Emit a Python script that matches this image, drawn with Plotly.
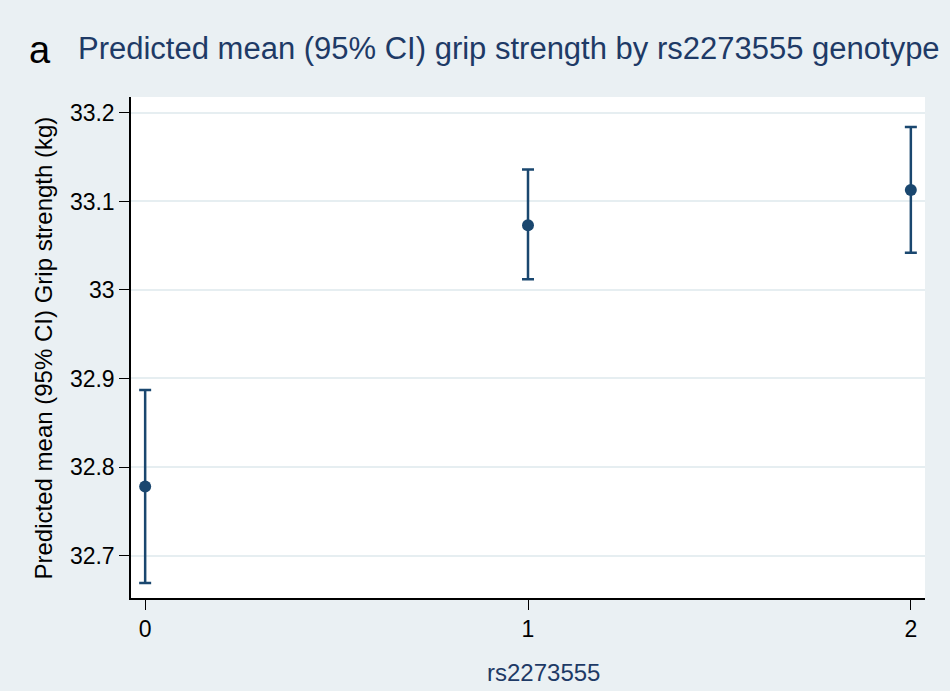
import plotly.graph_objects as go

# Predicted grip strength by rs2273555 genotype
genotype = [0, 1, 2]
pred_mean = [32.778, 33.073, 33.113]
ci_low = [32.669, 33.012, 33.042]
ci_high = [32.887, 33.136, 33.184]
y_ticks = [32.7, 32.8, 32.9, 33.0, 33.1, 33.2]
y_tick_text = ["32.7", "32.8", "32.9", "33", "33.1", "33.2"]

navy = "#1a476f"
title_blue = "#1e3a66"
bg = "#eaf0f3"
font_family = "Liberation Sans, Arial, sans-serif"

fig = go.Figure()
fig.add_trace(go.Scatter(
    x=genotype,
    y=pred_mean,
    mode="markers",
    marker=dict(color=navy, size=12),
    error_y=dict(
        type="data",
        symmetric=False,
        array=[h - m for h, m in zip(ci_high, pred_mean)],
        arrayminus=[m - l for m, l in zip(pred_mean, ci_low)],
        color=navy,
        thickness=2.5,
        width=6,
    ),
    showlegend=False,
))

fig.update_layout(
    width=950,
    height=691,
    paper_bgcolor=bg,
    plot_bgcolor="white",
    margin=dict(l=131, r=25, t=97, b=93),
    font=dict(family=font_family, color="black"),
    xaxis=dict(
        range=[-0.037, 2.037],
        tickmode="array",
        tickvals=genotype,
        ticktext=[str(g) for g in genotype],
        ticks="outside",
        ticklen=10,
        tickcolor="black",
        tickfont=dict(size=23, color="black"),
        showgrid=False,
        zeroline=False,
        showline=True,
        linecolor="black",
        linewidth=1.5,
    ),
    yaxis=dict(
        range=[32.652, 33.218],
        tickmode="array",
        tickvals=y_ticks,
        ticktext=y_tick_text,
        ticks="outside",
        ticklen=10,
        tickcolor="black",
        tickfont=dict(size=23, color="black"),
        showgrid=True,
        gridcolor="#e6eef1",
        gridwidth=2,
        zeroline=False,
        showline=True,
        linecolor="black",
        linewidth=1.5,
    ),
    annotations=[
        # panel letter
        dict(text="a", xref="paper", yref="paper", x=-0.131, y=1.0946,
             xanchor="left", yanchor="middle", showarrow=False,
             font=dict(size=38, color="black")),
        # chart title
        dict(text="Predicted mean (95% CI) grip strength by rs2273555 genotype",
             xref="paper", yref="paper", x=-0.0693, y=1.0978,
             xanchor="left", yanchor="middle", showarrow=False,
             font=dict(size=31, color=title_blue)),
        # y-axis title
        dict(text="Predicted mean (95% CI) Grip strength (kg)",
             xref="paper", yref="paper", x=-0.1096, y=0.5,
             xanchor="center", yanchor="middle", textangle=-90,
             showarrow=False, font=dict(size=24, color="black")),
        # x-axis title
        dict(text="rs2273555", xref="paper", yref="paper",
             x=0.52, y=-0.1497, xanchor="center", yanchor="middle",
             showarrow=False, font=dict(size=24, color=title_blue)),
    ],
)

fig.write_html("out.html")
